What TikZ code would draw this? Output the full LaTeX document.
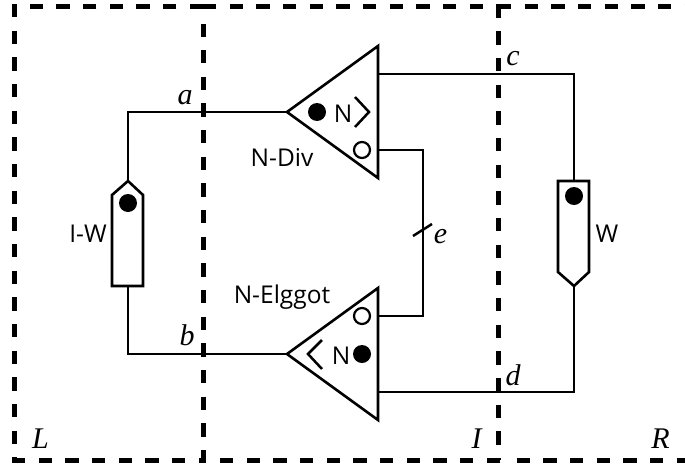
\documentclass[tikz,border=0pt]{standalone}
\usepackage{fontspec}
\setmainfont{Open Sans}
\newfontfamily\varfont{Liberation Serif}
\tikzset{
  wire/.style={line width=2.5pt,line join=miter},
  region/.style={line width=5pt,dash pattern=on 13.33pt off 13.33pt},
  gate/.style={line width=2.6pt,fill=white,line join=miter},
  dotfull/.style={circle,fill=black,inner sep=0pt,minimum size=18pt},
  dotopen/.style={circle,draw=black,fill=white,line width=2.2pt,inner sep=0pt,minimum size=16pt},
  lab/.style={inner sep=0pt,anchor=base,font=\fontsize{24.5}{28}\selectfont},
  var/.style={inner sep=0pt,anchor=base,font=\fontsize{30}{34}\selectfont\varfont\itshape},
}
\begin{document}
\begin{tikzpicture}[x=1pt,y=-1pt]
\useasboundingbox (0,0) rectangle (685,466);
% regions
\draw[region] (14.5,4) -- (14.5,460);
\draw[region] (203,6.5) -- (30,6.5);
\draw[region] (203,6.5) -- (498,6.5);
\draw[region] (498,6.5) -- (690,6.5);
\draw[region] (687,4) -- (687,460);
\draw[region] (12,460) -- (206,460);
\draw[region] (220,460) -- (500,460);
\draw[region] (516.7,460) -- (690,460);
\draw[region] (203,23.5) -- (203,463);
\draw[region] (498,4.7) -- (498,460);
% gate anchors
\coordinate (t1a) at (287,112); \coordinate (t1t) at (378,46); \coordinate (t1b) at (378,178);
\coordinate (t2a) at (287,354); \coordinate (t2t) at (378,288); \coordinate (t2b) at (378,420);
\coordinate (c1) at (378,74); \coordinate (c2) at (378,150);
\coordinate (c3) at (378,316); \coordinate (c4) at (378,392);
\coordinate (iwt) at (128,181); \coordinate (iwb) at (128,286);
\coordinate (wt) at (574,181); \coordinate (wb) at (574,286);
% connectors
\draw[wire] (t1a) -- (128,112) -- (iwt);
\draw[wire] (t2a) -- (128,354) -- (iwb);
\draw[wire] (c1) -- (574,74) -- (wt);
\draw[wire] (c4) -- (574,392) -- (wb);
\draw[wire] (c2) -- (423,150) -- (423,316) -- (c3);
\coordinate (e1) at (413,236); \coordinate (e2) at (432,224);
\draw[wire] (e1) -- (e2);
% gates
\draw[gate] (t1a) -- (t1t) -- (t1b) -- cycle;
\draw[gate] (t2a) -- (t2t) -- (t2b) -- cycle;
\draw[gate] (iwt) -- (143,195) -- (143,286) -- (112,286) -- (112,195) -- cycle;
\draw[gate] (558,181) -- (589,181) -- (589,272) -- (wb) -- (558,272) -- cycle;
\coordinate (ch1) at (355,97); \coordinate (ch2) at (369,112); \coordinate (ch3) at (355,127);
\draw[wire] (ch1) -- (ch2) -- (ch3);
\coordinate (ch4) at (322,340); \coordinate (ch5) at (308,354); \coordinate (ch6) at (322,369);
\draw[wire] (ch4) -- (ch5) -- (ch6);
\node[dotfull] (d1) at (317,112) {};
\node[dotopen] (o1) at (362,150) {};
\node[dotopen] (o2) at (362,316) {};
\node[dotfull] (d2) at (362,354) {};
\node[dotfull] (d3) at (128,203) {};
\node[dotfull] (d4) at (574,196) {};
% labels
\node[lab] (n1) at (343,122) {N};
\node[lab] (n2) at (341,364) {N};
\node[lab] (ndiv) at (282,166) {N-Div};
\node[lab] (nelg) at (282,303) {N-Elggot};
\node[lab] (iw) at (88,242) {I-W};
\node[lab] (w) at (607,242) {W};
\node[var] (a) at (185,104) {a};
\node[var] (b) at (187,345) {b};
\node[var] (c) at (513,65) {c};
\node[var] (d) at (513,385) {d};
\node[var] (e) at (440.5,243) {e};
\node[var] (L) at (40.5,448) {L};
\node[var] (I) at (476.5,448) {I};
\node[var] (R) at (660.5,448) {R};
\end{tikzpicture}
\end{document}
